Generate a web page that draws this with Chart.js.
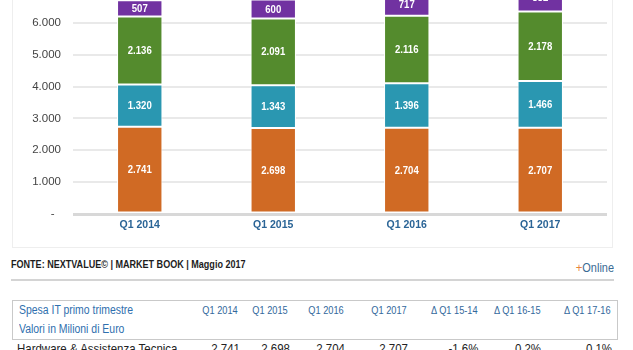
<!DOCTYPE html>
<html lang="it">
<head>
<meta charset="utf-8">
<script src="https://cdn.jsdelivr.net/npm/chart.js@4.4.1/dist/chart.umd.min.js"></script>
<style>
  html, body { margin: 0; padding: 0; background: #fff; }
  body { width: 633px; height: 350px; overflow: hidden; position: relative; font-family: "Liberation Sans", Arial, sans-serif; }
  .abs { position: absolute; white-space: nowrap; }
  .narrowL { transform: scaleX(0.87); transform-origin: left center; }
  .narrowR { transform: scaleX(0.87); transform-origin: right center; }
  #panel { left: 12px; top: -60px; width: 601px; height: 308px; border: 1px solid #eeeeee; box-sizing: border-box; }
  #chartBox { left: 13px; top: -60px; width: 599px; height: 300px; }
  #source { left: 11px; top: 258px; font-size: 10.4px; line-height: 13px; font-weight: bold; color: #1c1c1c; }
  #online { right: 19px; top: 260px; font-size: 12.6px; line-height: 15px; color: #3a6b94; }
  #online span { color: #e8843c; font-size: 13px; }
  #rule { left: 11px; top: 279px; width: 603px; height: 2px; background: #d4d4d4; }
  #tableBox { left: 12px; top: 300px; width: 606px; height: 40px; border: 1px solid #c9c9c9; box-sizing: border-box; }
  .title { font-size: 12px; line-height: 15px; color: #2f6fae; left: 19px; }
  .colHead { font-size: 10.6px; line-height: 15px; color: #33689c; top: 303px; text-align: right; }
  .cell { font-size: 13.2px; line-height: 15px; color: #222; top: 341px; text-align: right; }
</style>
</head>
<body>
<div id="panel" class="abs"></div>
<div id="chartBox" class="abs"><canvas id="chart"></canvas></div>
<div id="source" class="abs narrowL">FONTE: NEXTVALUE© | MARKET BOOK | Maggio 2017</div>
<div id="online" class="abs narrowR"><span>+</span>Online</div>
<div id="rule" class="abs"></div>
<div id="tableBox" class="abs"></div>
<div class="abs title narrowL" style="top:303px">Spesa IT primo trimestre</div>
<div class="abs title narrowL" style="top:322px">Valori in Milioni di Euro</div>
<div id="table"></div>
<script>
const categories = ['Q1 2014', 'Q1 2015', 'Q1 2016', 'Q1 2017'];
const hardware = [2741, 2698, 2704, 2707];
const software = [1320, 1343, 1396, 1466];
const services = [2136, 2091, 2116, 2178];
const digital = [507, 600, 717, 882];
const yTicks = [0, 1000, 2000, 3000, 4000, 5000, 6000, 7000, 8000];

const tableHeads = ['Q1 2014', 'Q1 2015', 'Q1 2016', 'Q1 2017', 'Δ Q1 15-14', 'Δ Q1 16-15', 'Δ Q1 17-16'];
const rowLabel = 'Hardware & Assistenza Tecnica';
const rowValues = ['2.741', '2.698', '2.704', '2.707', '-1,6%', '0,2%', '0,1%'];
const headRight = [238, 288, 344, 407, 478, 541, 611];
const cellRight = [240, 290, 345, 408, 478, 541, 612];

const FONT = '"Liberation Sans", Arial, sans-serif';

function itNum(v) {
  return String(Math.round(v)).replace(/\B(?=(\d{3})+(?!\d))/g, '.');
}

// table under the chart
const table = document.getElementById('table');
tableHeads.forEach((t, i) => {
  const d = document.createElement('div');
  d.className = 'abs colHead narrowR';
  d.style.right = (633 - headRight[i]) + 'px';
  d.textContent = t;
  table.appendChild(d);
});
const lbl = document.createElement('div');
lbl.className = 'abs cell narrowL';
lbl.style.left = '17px';
lbl.textContent = rowLabel;
table.appendChild(lbl);
rowValues.forEach((t, i) => {
  const d = document.createElement('div');
  d.className = 'abs cell narrowR';
  d.style.right = (633 - cellRight[i]) + 'px';
  d.textContent = t;
  table.appendChild(d);
});

// white value labels in the middle of each segment
const barLabels = {
  id: 'barLabels',
  afterDatasetsDraw(chart) {
    const ctx = chart.ctx;
    ctx.save();
    ctx.font = `bold 11px ${FONT}`;
    ctx.fillStyle = '#ffffff';
    ctx.textAlign = 'center';
    ctx.textBaseline = 'middle';
    chart.data.datasets.forEach((ds, i) => {
      chart.getDatasetMeta(i).data.forEach((bar, j) => {
        ctx.save();
        ctx.translate(bar.x, (bar.y + bar.base) / 2 + 0.5);
        ctx.scale(0.87, 1);
        ctx.fillText(itNum(ds.data[j]), 0, 0);
        ctx.restore();
      });
    });
    ctx.restore();
  }
};

function seg(label, data, color) {
  return {
    label, data,
    backgroundColor: color,
    borderColor: '#ffffff',
    borderWidth: 1,
    borderSkipped: false,
    barPercentage: 0.34,
    categoryPercentage: 1
  };
}

new Chart(document.getElementById('chart'), {
  type: 'bar',
  data: {
    labels: categories,
    datasets: [
      seg('Hardware & Assistenza Tecnica', hardware, '#d06a24'),
      seg('Software', software, '#2a97b1'),
      seg('Servizi', services, '#548b2d'),
      seg('Digital', digital, '#7132a1')
    ]
  },
  options: {
    responsive: true,
    maintainAspectRatio: false,
    animation: false,
    layout: { padding: { top: 19, right: 5, left: 0, bottom: 0 } },
    plugins: { legend: { display: false }, tooltip: { enabled: false } },
    scales: {
      x: {
        stacked: true,
        grid: { display: false, drawTicks: false },
        border: { display: false },
        ticks: { color: '#2a6496', padding: 5, font: { family: FONT, size: 10.5, weight: 'bold' } },
        afterFit: s => { s.height = 26; }
      },
      y: {
        stacked: true,
        min: yTicks[0],
        max: yTicks[yTicks.length - 1],
        afterBuildTicks: s => { s.ticks = yTicks.map(v => ({ value: v })); },
        grid: {
          drawTicks: false,
          color: c => (c.tick && c.tick.value === 0 ? '#d8d8d8' : '#e9e9e9'),
          lineWidth: c => (c.tick && c.tick.value === 0 ? 3 : 2)
        },
        border: { display: false },
        ticks: {
          color: '#444444',
          padding: 12,
          font: { family: FONT, size: 11.5 },
          callback: v => (v === 0 ? '-  ' : itNum(v))
        },
        afterFit: s => { s.width = 60; }
      }
    }
  },
  plugins: [barLabels]
});
</script>
</body>
</html>
